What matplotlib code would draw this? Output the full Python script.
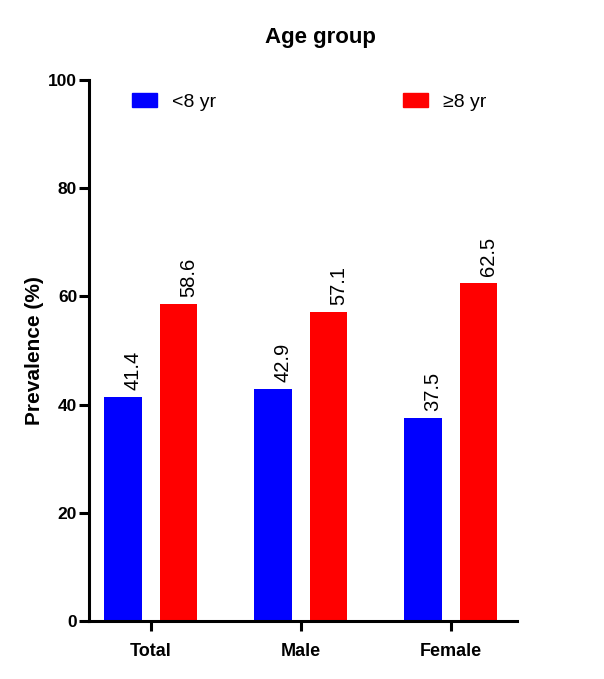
import matplotlib
matplotlib.use("Agg")
import matplotlib.pyplot as plt
import numpy as np
from matplotlib.patches import Patch

categories = ["Total", "Male", "Female"]
under8 = [41.4, 42.9, 37.5]
over8 = [58.6, 57.1, 62.5]
series_labels = ["<8 yr", "\u22658 yr"]
yticks = [0, 20, 40, 60, 80, 100]

plt.rcParams['font.family'] = ['Liberation Sans', 'DejaVu Sans']

fig = plt.figure(figsize=(6.04, 6.79), dpi=100)
ax = fig.add_axes([89/604, 1-621/679, (517-89)/604, (621-80)/679])

x = np.arange(len(categories))
w = 0.25
off = 0.185
b1 = ax.bar(x - off, under8, w, color="#0000FF")
b2 = ax.bar(x + off, over8, w, color="#FF0000")

for bars, vals in ((b1, under8), (b2, over8)):
    for r, v in zip(bars, vals):
        ax.annotate(f"{v:.1f}", (r.get_x() + r.get_width()/2, v),
                    xytext=(7, 5), textcoords="offset points",
                    rotation=90, ha="center", va="bottom", fontsize=14.5)

ax.set_xlim(-0.413, 2.44)
ax.set_ylim(0, 100)
ax.set_yticks(yticks)
ax.set_xticks(x)
ax.set_xticklabels(categories, fontsize=13, fontweight="bold")
ax.set_yticklabels([str(t) for t in yticks], fontsize=12.5, fontweight="bold")
for s in ("top", "right"):
    ax.spines[s].set_visible(False)
for s in ("left", "bottom"):
    ax.spines[s].set_linewidth(2.2)
ax.tick_params(axis="both", width=2.2, length=7.5)
ax.tick_params(axis="x", pad=8)
ax.tick_params(axis="y", pad=1)

ax.set_ylabel("Prevalence (%)", fontsize=15, fontweight="bold", labelpad=3)
fig.text(320/604, 1-37/679, "Age group", ha="center", va="center",
         fontsize=16, fontweight="bold")

handles = [Patch(color="#0000FF"), Patch(color="#FF0000")]
fig.legend(handles, series_labels, loc="center left",
           bbox_to_anchor=(132/604, 1-102/679), ncol=2, frameon=False,
           fontsize=14, handlelength=1.29, handleheight=0.7,
           handletextpad=0.77, columnspacing=9.6, borderpad=0,
           borderaxespad=0)

fig.savefig("out.png", dpi=100)
